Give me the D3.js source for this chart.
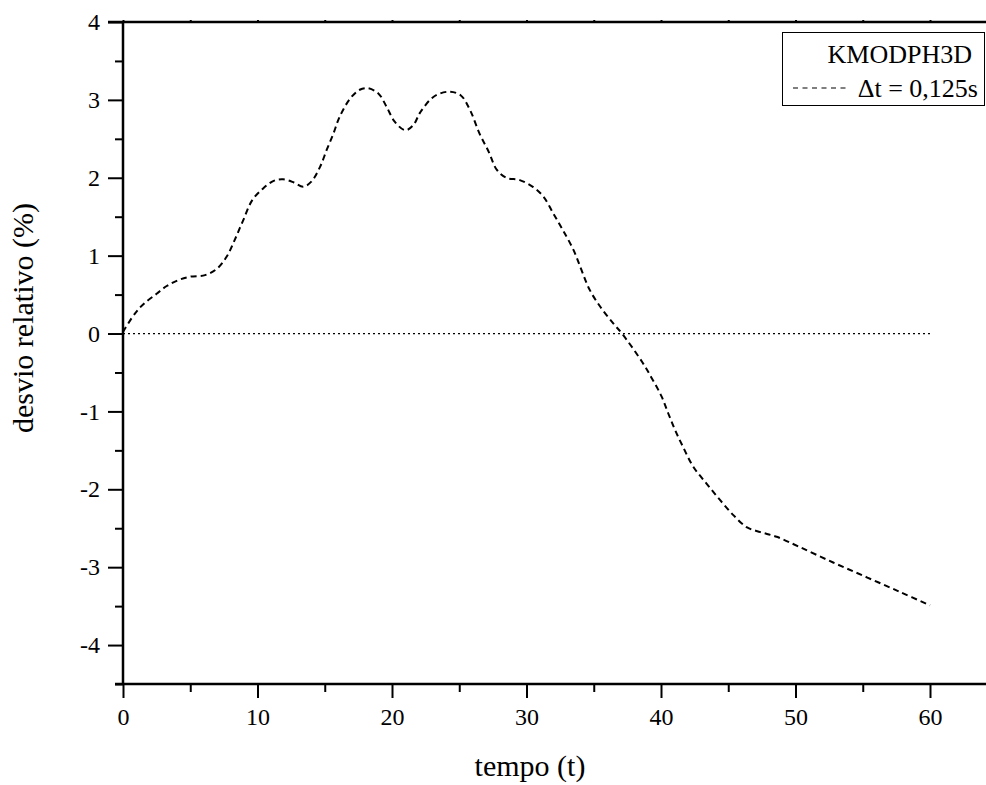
<!DOCTYPE html>
<html>
<head>
<meta charset="utf-8">
<script src="https://cdn.jsdelivr.net/npm/d3@7"></script>
<style>
  body { margin: 0; background: #fff; }
  svg { display: block; }
  text { font-family: "Liberation Serif", "Times New Roman", serif; fill: #000; }
</style>
</head>
<body>
<div id="chart"></div>
<script>
// tempo (t) and desvio relativo (%)
let tempo = [0, 0.9, 1.6, 2.5, 3.25, 4.1, 5.0, 6.1, 7.0, 7.7, 8.3, 8.95, 9.6, 10.4, 11.2, 11.9,
    12.7, 13.4, 14.0, 14.65, 15.15, 15.65, 16.1, 16.9, 17.6, 18.2, 19.0, 19.6, 20.2, 21.0, 21.6,
    22.1, 23.1, 24.2, 25.1, 25.8, 26.5, 27.2, 27.8, 28.5, 29.5, 30.5, 31.25, 32.0, 32.7, 33.5,
    34.1, 34.7, 35.5, 36.45, 37.1, 38.6, 39.4, 40.05, 40.55, 41.05, 41.65, 42.4, 43.4, 44.4,
    45.4, 46.4, 47.4, 48.6, 50.3, 52.8, 55.3, 57.8, 60];
let desvio = [0.02, 0.26, 0.39, 0.51, 0.61, 0.685, 0.73, 0.75, 0.835, 0.985, 1.2, 1.46, 1.71, 1.86, 1.96, 1.98,
    1.94, 1.885, 1.95, 2.14, 2.36, 2.57, 2.78, 3.02, 3.13, 3.15, 3.08, 2.91, 2.72, 2.61, 2.68,
    2.84, 3.04, 3.105, 3.06, 2.87, 2.57, 2.33, 2.10, 2.0, 1.97, 1.88, 1.76, 1.54, 1.33, 1.07,
    0.81, 0.56, 0.34, 0.13, 0.0, -0.365, -0.6, -0.81, -1.03, -1.24, -1.46, -1.71, -1.93, -2.14,
    -2.335, -2.49, -2.55, -2.61, -2.74, -2.94, -3.13, -3.32, -3.49];

let xMajor = [0, 10, 20, 30, 40, 50, 60],
    xMinor = [5, 15, 25, 35, 45, 55],
    yMajor = [-4, -3, -2, -1, 0, 1, 2, 3, 4],
    yMinor = [-4.5, -3.5, -2.5, -1.5, -0.5, 0.5, 1.5, 2.5, 3.5];
let zeroLine = [0, 60];

let WIDTH = 986,
    HEIGHT = 785,
    plotRight = 986;

let svg = d3.select("#chart")
    .append("svg")
    .attr("width", WIDTH)
    .attr("height", HEIGHT);

let x = d3.scaleLinear().domain([0, 60]).range([123, 930]);
let y = d3.scaleLinear().domain([-4.5, 4]).range([684, 22]);

// reference line at zero
svg.append("line")
    .attr("x1", x(zeroLine[0])).attr("x2", x(zeroLine[1]))
    .attr("y1", y(0)).attr("y2", y(0))
    .attr("stroke", "#000")
    .attr("stroke-width", 1.2)
    .attr("stroke-dasharray", "2,3");

// curve
let data = tempo.map((t, i) => ({ t: t, v: desvio[i] }));
let line = d3.line()
    .x(d => x(d.t))
    .y(d => y(d.v))
    .curve(d3.curveCatmullRom.alpha(0.5));

svg.append("path")
    .datum(data)
    .attr("d", line)
    .attr("fill", "none")
    .attr("stroke", "#000")
    .attr("stroke-width", 2)
    .attr("stroke-dasharray", "6,4");

// bottom axis
let xAxisMajor = svg.append("g")
    .attr("transform", `translate(0,${y(-4.5)})`)
    .call(d3.axisBottom(x).tickValues(xMajor).tickSize(14).tickPadding(10));
let xAxisMinor = svg.append("g")
    .attr("transform", `translate(0,${y(-4.5)})`)
    .call(d3.axisBottom(x).tickValues(xMinor).tickSize(8).tickFormat(""));

// left axis, plain hyphen for negatives
let yAxisMajor = svg.append("g")
    .attr("transform", `translate(${x(0)},0)`)
    .call(d3.axisLeft(y).tickValues(yMajor).tickSize(15).tickPadding(8).tickFormat(d => String(d)));
let yAxisMinor = svg.append("g")
    .attr("transform", `translate(${x(0)},0)`)
    .call(d3.axisLeft(y).tickValues(yMinor).tickSize(8).tickFormat(""));

// top axis, tiny ticks only
let topAxis = svg.append("g")
    .attr("transform", `translate(0,${y(4)})`)
    .call(d3.axisTop(x).tickValues(xMajor.concat(xMinor)).tickSize(2).tickFormat(""));

[xAxisMajor, xAxisMinor, yAxisMajor, yAxisMinor, topAxis].forEach(g => {
    g.select(".domain").remove();
    g.selectAll(".tick line").attr("stroke", "#000").attr("stroke-width", 2);
    g.selectAll("text")
        .style("font-family", '"Liberation Serif", serif')
        .style("font-size", "24px")
        .attr("fill", "#000");
});

// axis lines
svg.append("line")
    .attr("x1", x(0)).attr("x2", x(0))
    .attr("y1", y(4) - 1).attr("y2", y(-4.5) + 1)
    .attr("stroke", "#000").attr("stroke-width", 2.5);
svg.append("line")
    .attr("x1", x(0) - 8).attr("x2", plotRight)
    .attr("y1", y(-4.5)).attr("y2", y(-4.5))
    .attr("stroke", "#000").attr("stroke-width", 2.5);
svg.append("line")
    .attr("x1", x(0) - 15).attr("x2", plotRight)
    .attr("y1", y(4)).attr("y2", y(4))
    .attr("stroke", "#000").attr("stroke-width", 2.5);

// titles
svg.append("text")
    .attr("x", 530)
    .attr("y", 776)
    .attr("text-anchor", "middle")
    .style("font-size", "30px")
    .text("tempo (t)");

svg.append("text")
    .attr("transform", "translate(33,318) rotate(-90)")
    .attr("text-anchor", "middle")
    .style("font-size", "30px")
    .text("desvio relativo (%)");

// legend
let legend = svg.append("g");
legend.append("rect")
    .attr("x", 782.5).attr("y", 32.5)
    .attr("width", 202).attr("height", 73)
    .attr("fill", "#fff")
    .attr("stroke", "#000")
    .attr("stroke-width", 1);
legend.append("text")
    .attr("x", 972).attr("y", 63)
    .attr("text-anchor", "end")
    .style("font-size", "26px")
    .text("KMODPH3D");
legend.append("line")
    .attr("x1", 793).attr("x2", 848)
    .attr("y1", 88).attr("y2", 88)
    .attr("stroke", "#000")
    .attr("stroke-width", 1.2)
    .attr("stroke-dasharray", "5,4.5");
legend.append("text")
    .attr("x", 978).attr("y", 97)
    .attr("text-anchor", "end")
    .style("font-size", "26px")
    .text("Δt = 0,125s");
</script>
</body>
</html>
